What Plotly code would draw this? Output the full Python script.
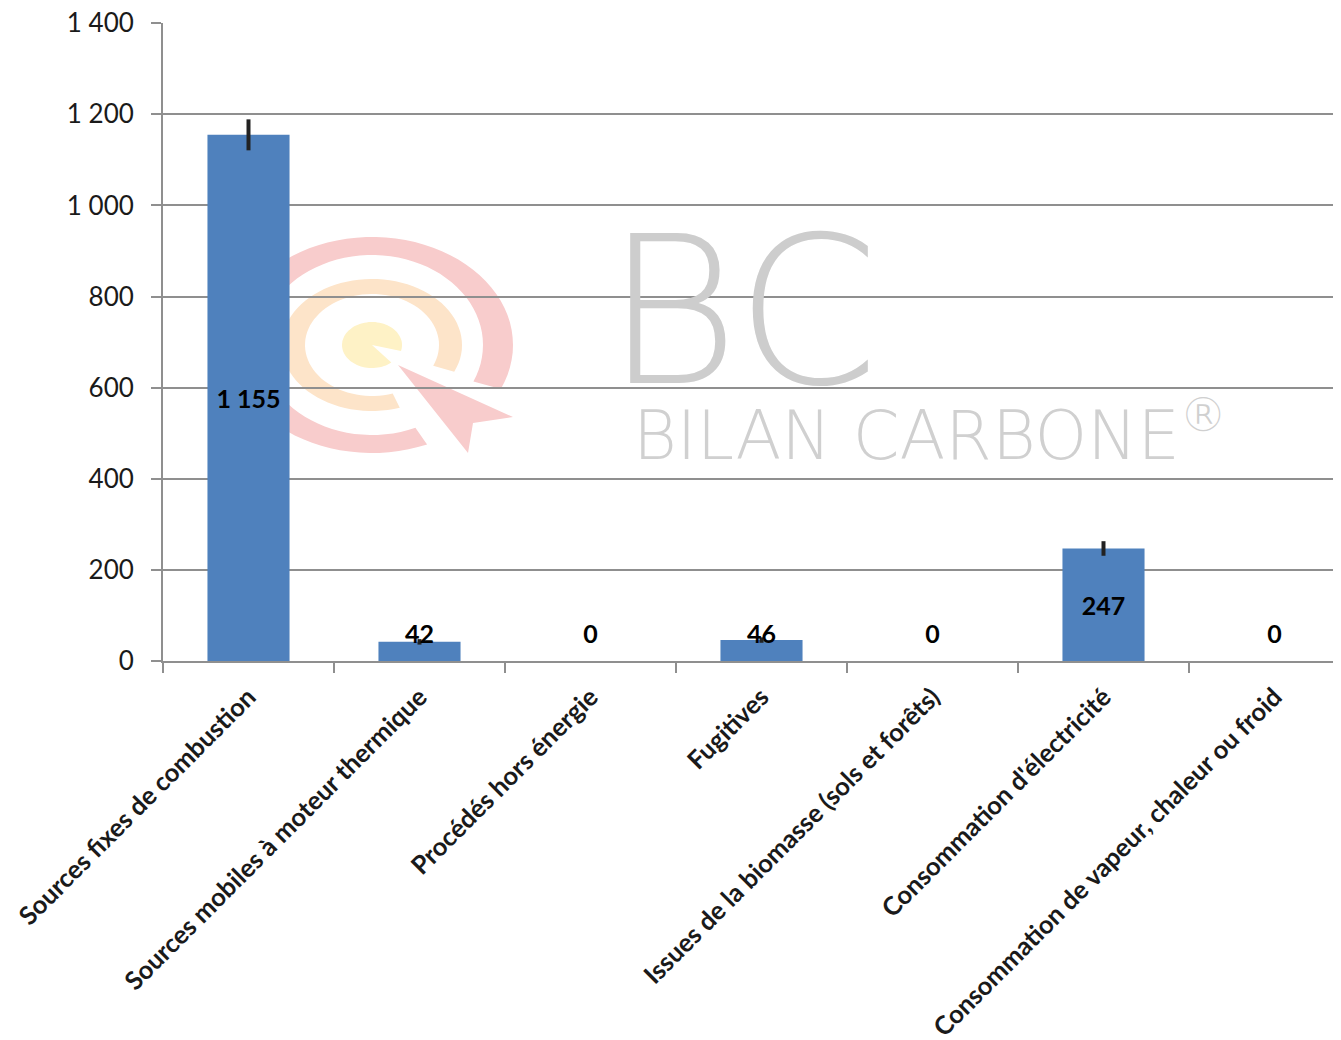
import numpy as np
import plotly.graph_objects as go

# ---------------- data ----------------
categories = [
    "Sources fixes de combustion",
    "Sources mobiles à moteur thermique",
    "Procédés hors énergie",
    "Fugitives",
    "Issues de la biomasse (sols et forêts)",
    "Consommation d'électricité",
    "Consommation de vapeur, chaleur ou froid",
]
values = [1155, 42, 0, 46, 0, 247, 0]
errors = [34, 6, 0, 6, 0, 16, 0]
y_ticks = [0, 200, 400, 600, 800, 1000, 1200, 1400]

# ---------------- style ----------------
OFF = 8                      # page body margin
W, H = 1341 - 2 * OFF, 1040 - OFF
# plot area in screen pixels
PL, PT, PB = 163, 23, 661
PR = W + OFF
ML, MT = PL - OFF, PT - OFF
MR = 0
MB = (H + OFF) - PB
BAR_COLOR = "#4F81BD"
GRID = "#8f8f8f"
FONT = "Lato"
CAT_PX = 171            # pixel width of one category slot
SMALL_LABEL_Y = 54      # label height (data units) for bars too small to hold it
INSIDE_MIN = 100


def fmt(v):
    return f"{v:,}".replace(",", " ")


bar_text = [fmt(v) for v in values]
bar_textpos = ["inside" if v >= INSIDE_MIN else "none" for v in values]
small_x = [c for c, v in zip(categories, values) if v < INSIDE_MIN]
small_text = [fmt(v) for v in values if v < INSIDE_MIN]

fig = go.Figure()
fig.add_trace(go.Bar(
    x=categories, y=values, width=0.48,
    marker=dict(color=BAR_COLOR, line=dict(width=0)),
    error_y=dict(type="data", array=errors, visible=True,
                 color="#222222", thickness=4, width=0),
    text=bar_text, textposition=bar_textpos, insidetextanchor="middle",
    textangle=0,
    textfont=dict(family=FONT, size=25, color="black", weight="bold"),
    showlegend=False, hoverinfo="x+y",
))
fig.add_trace(go.Scatter(
    x=small_x, y=[SMALL_LABEL_Y] * len(small_x), mode="text",
    text=small_text,
    textfont=dict(family=FONT, size=25, color="black", weight="bold"),
    showlegend=False, hoverinfo="skip", cliponaxis=False,
))

# ---------------- watermark logo (decorative) ----------------
plot_w = PR - PL
plot_h = PB - PT


def px_x(px):
    return (px - PL) / plot_w


def px_y(py):
    return (PB - py) / plot_h


cx_px, cy_px = 372, 345


def ring_path(rxo, ryo, rxi, ryi, a0, a1, n=80):
    t = np.radians(np.linspace(a0, a1, n))
    outer = [(rxo * np.cos(a), ryo * np.sin(a)) for a in t]
    inner = [(rxi * np.cos(a), ryi * np.sin(a)) for a in t[::-1]]
    pts = outer + inner
    return "M " + " L ".join(f"{x:.1f},{y:.1f}" for x, y in pts) + " Z"


def pie_path(rx, ry, a0, a1, n=80):
    t = np.radians(np.linspace(a0, a1, n))
    pts = [(0, 0)] + [(rx * np.cos(a), ry * np.sin(a)) for a in t]
    return "M " + " L ".join(f"{x:.1f},{y:.1f}" for x, y in pts) + " Z"


logo = [
    (ring_path(141, 108, 111, 90, -24, 293), "#f8cccc"),
    (ring_path(90, 66, 67, 51, -24, 288), "#fde4c9"),
    (pie_path(30, 23, -15, 310), "#fef2c6"),
    ("M 26,-20 L 141,-72 L 101,-78 L 96,-108 Z", "#f8cccc"),
]
for path, col in logo:
    fig.add_shape(type="path", path=path, xref="paper", yref="paper",
                  xsizemode="pixel", ysizemode="pixel",
                  xanchor=px_x(cx_px), yanchor=px_y(cy_px),
                  fillcolor=col, line=dict(width=0), layer="below")

WM_FONT = "DejaVu Sans ExtraLight, DejaVu Sans, Lato"
fig.add_annotation(text="BC", xref="paper", yref="paper",
                   x=px_x(742), y=px_y(312), xanchor="center", yanchor="middle",
                   showarrow=False,
                   font=dict(family=WM_FONT, size=205, color="#cdcdcd", weight=200))
fig.add_annotation(text="BILAN CARBONE<sup>®</sup>", xref="paper", yref="paper",
                   x=px_x(930), y=px_y(431), xanchor="center", yanchor="middle",
                   showarrow=False,
                   font=dict(family=WM_FONT, size=67, color="#d0d0d0", weight=200))

fig.update_layout(
    width=W, height=H,
    margin=dict(l=ML, r=MR, t=MT, b=MB, pad=0, autoexpand=False),
    paper_bgcolor="white", plot_bgcolor="rgba(0,0,0,0)",
    separators=", ",
    bargap=0.52,
    font=dict(family=FONT, color="#1a1a1a"),
)
fig.update_xaxes(
    range=[-0.5, -0.5 + plot_w / CAT_PX], automargin=False,
    showline=True, linecolor=GRID, linewidth=2,
    ticks="outside", tickson="boundaries", ticklen=10, tickcolor=GRID, tickwidth=2,
    tickangle=-45, showgrid=False, zeroline=False, ticklabelstandoff=9,
    tickfont=dict(family=FONT, size=25.5, color="#1a1a1a", weight="bold"),
)
fig.update_yaxes(
    range=[0, 1400.5], tickvals=y_ticks, separatethousands=True, tickformat=",d",
    automargin=False,
    showline=True, linecolor=GRID, linewidth=2,
    ticks="outside", ticklen=10, tickcolor=GRID, tickwidth=2,
    showgrid=True, gridcolor=GRID, gridwidth=2, zeroline=False,
    ticklabelstandoff=12, ticklabeloverflow="allow",
    tickfont=dict(family=FONT, size=26, color="#1a1a1a"),
)

fig.write_html("out.html")
